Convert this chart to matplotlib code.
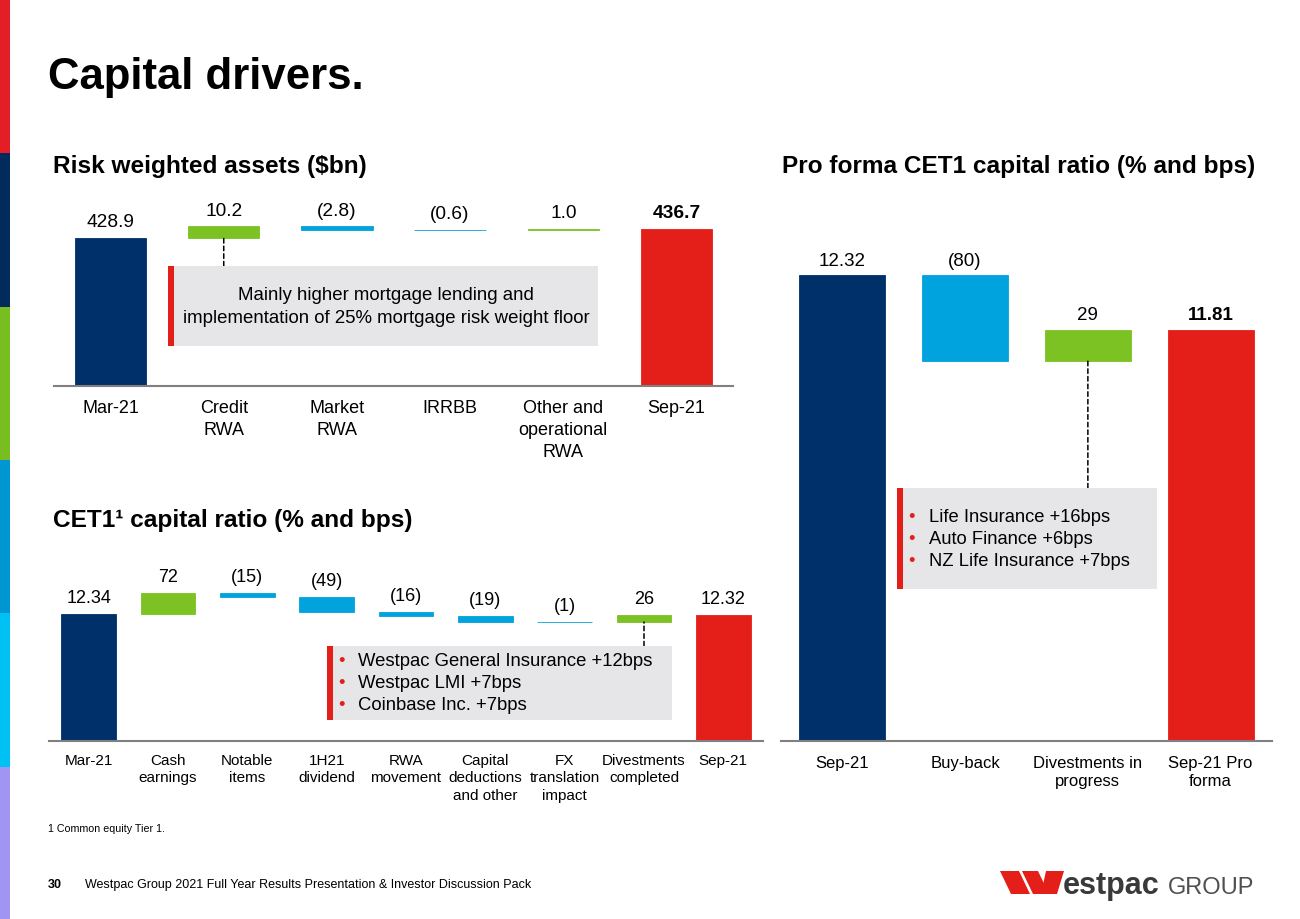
import matplotlib
matplotlib.use('Agg')
import matplotlib.pyplot as plt
import matplotlib.transforms as mtransforms
from matplotlib.patches import Rectangle, Polygon
import numpy as np

plt.rcParams['font.family'] = ['Liberation Sans', 'DejaVu Sans']

W, H = 1300, 919

NAVY = '#00306A'
BLUE = '#00A3DD'
GREEN = '#7CC223'
RED = '#E41F1A'
BOX_GREY = '#E6E6E8'
AXIS_GREY = '#808080'

# ---- data ----
rwa_cats = ['Mar-21', 'Credit\nRWA', 'Market\nRWA', 'IRRBB', 'Other and\noperational\nRWA', 'Sep-21']
rwa_start = 428.9
rwa_moves = [10.2, -2.8, -0.6, 1.0]
rwa_end = 436.7

cet1_cats = ['Mar-21', 'Cash\nearnings', 'Notable\nitems', '1H21\ndividend', 'RWA\nmovement',
             'Capital\ndeductions\nand other', 'FX\ntranslation\nimpact', 'Divestments\ncompleted', 'Sep-21']
cet1_start = 12.34
cet1_moves_bps = [72, -15, -49, -16, -19, -1, 26]
cet1_end = 12.32

pf_cats = ['Sep-21', 'Buy-back', 'Divestments in\nprogress', 'Sep-21 Pro\nforma']
pf_start = 12.32
pf_moves_bps = [-80, 29]
pf_end = 11.81

rwa_note = 'Mainly higher mortgage lending and\nimplementation of 25% mortgage risk weight floor'
cet1_note = ['Westpac General Insurance +12bps', 'Westpac LMI +7bps', 'Coinbase Inc. +7bps']
pf_note = ['Life Insurance +16bps', 'Auto Finance +6bps', 'NZ Life Insurance +7bps']

fig = plt.figure(figsize=(13, 9.19), dpi=100)


def fx(px):
    return px / W


def fy(py):
    return 1 - py / H


def make_axes(left, right, top, base):
    return fig.add_axes([fx(left), fy(base), (right - left) / W, (base - top) / H])


def fmt_one(v):
    return f'{v:.1f}' if v > 0 else f'({-v:.1f})'


def fmt_bps(v):
    return f'{v}' if v > 0 else f'({-v})'


def waterfall(ax, cats, start, moves, end, scale, fmt_total, fmt_move, fs, width,
              bold_end, ylim, lab_pad, tick_fs, tick_pad, spacing):
    n = len(cats)
    x = np.arange(n)
    steps = [m / scale for m in moves]
    cum = start + np.concatenate([[0], np.cumsum(steps)])
    bottoms = [0] + list(np.minimum(cum[:-1], cum[1:])) + [0]
    heights = [start] + [abs(s) for s in steps] + [end]
    tops = [start] + list(np.maximum(cum[:-1], cum[1:])) + [end]
    colors = [NAVY] + [GREEN if s > 0 else BLUE for s in steps] + [RED]
    ax.bar(x, heights, width, bottom=bottoms, color=colors, edgecolor=colors, linewidth=0.6)
    labels = [fmt_total(start)] + [fmt_move(m) for m in moves] + [fmt_total(end)]
    for i in range(n):
        ax.annotate(labels[i], (i, tops[i]), xytext=(0, lab_pad), textcoords='offset points',
                    ha='center', va='bottom', fontsize=fs,
                    fontweight='bold' if (bold_end and i == n - 1) else 'normal')
    ax.set_xlim(-0.5, n - 0.5)
    ax.set_ylim(*ylim)
    for s in ['top', 'right', 'left']:
        ax.spines[s].set_visible(False)
    ax.spines['bottom'].set_color(AXIS_GREY)
    ax.spines['bottom'].set_linewidth(1.5)
    ax.set_yticks([])
    ax.set_xticks(x)
    ax.set_xticklabels(cats, fontsize=tick_fs, linespacing=spacing)
    ax.tick_params(axis='x', length=0, pad=tick_pad)
    return bottoms


def dashed(ax, i, y_data, y_px):
    tr = mtransforms.blended_transform_factory(ax.transData, fig.transFigure)
    ax.annotate('', xy=(i, y_data), xycoords='data', xytext=(i, fy(y_px)), textcoords=tr,
                arrowprops=dict(arrowstyle='-', linestyle=(0, (3, 2)), color='black', lw=1.1,
                                shrinkA=0, shrinkB=0))


def note_box(x0, x1, y0, y1):
    fig.add_artist(Rectangle((fx(x0 + 6), fy(y1)), (x1 - x0 - 6) / W, (y1 - y0) / H,
                             transform=fig.transFigure, color=BOX_GREY, lw=0))
    fig.add_artist(Rectangle((fx(x0), fy(y1)), 6 / W, (y1 - y0) / H,
                             transform=fig.transFigure, color=RED, lw=0))


def bullets(items, xb, xt, y0, dy, fs):
    for k, t in enumerate(items):
        y = y0 + k * dy
        fig.text(fx(xb), fy(y), '\u2022', color=RED, fontsize=fs, ha='left', va='center')
        fig.text(fx(xt), fy(y), t, fontsize=fs, ha='left', va='center')


# left colour strip
strip = [(0, 153, '#E41E26'), (153, 307, '#002B5C'), (307, 460, '#78BE20'),
         (460, 613, '#0096D1'), (613, 767, '#00C1F3'), (767, 919, '#A095F2')]
for a, b, c in strip:
    fig.add_artist(Rectangle((0, fy(b)), 10 / W, (b - a) / H, transform=fig.transFigure, color=c, lw=0))

# titles
fig.text(fx(48), fy(77), 'Capital drivers.', fontsize=31.5, fontweight='bold', va='center')
fig.text(fx(53), fy(167), 'Risk weighted assets ($bn)', fontsize=17.6, fontweight='bold', va='center')
fig.text(fx(782), fy(167), 'Pro forma CET1 capital ratio (% and bps)', fontsize=17.6, fontweight='bold', va='center')
fig.text(fx(53), fy(521), 'CET1\u00b9 capital ratio (% and bps)', fontsize=17.6, fontweight='bold', va='center')

# RWA chart
ax1 = make_axes(54, 733, 195, 385.7)
b1 = waterfall(ax1, rwa_cats, rwa_start, rwa_moves, rwa_end, 1, lambda v: f'{v:.1f}', fmt_one,
               13.8, 0.63, True, (298, 467), 5, 13, 10.5, 1.38)
note_box(168, 598, 266, 346)
fig.text(fx(386), fy(307), rwa_note, fontsize=13.4, ha='center', va='center', linespacing=1.4)
dashed(ax1, 1, b1[1], 266)

# CET1 chart
ax2 = make_axes(49, 763, 560, 741)
b2 = waterfall(ax2, cet1_cats, cet1_start, cet1_moves_bps, cet1_end, 100, lambda v: f'{v:.2f}', fmt_bps,
               13, 0.69, False, (7.96, 14.2), 5, 11, 9.5, 1.3)
note_box(327, 672, 646, 720)
bullets(cet1_note, 338, 358, 662, 22, 13.3)
dashed(ax2, 7, b2[7], 646)

# Pro forma chart
ax3 = make_axes(781, 1272, 230, 741)
b3 = waterfall(ax3, pf_cats, pf_start, pf_moves_bps, pf_end, 100, lambda v: f'{v:.2f}', fmt_bps,
               13.5, 0.70, True, (7.985, 12.74), 4, 12, 10.5, 1.25)
note_box(897, 1157, 488, 589)
bullets(pf_note, 908, 929, 518, 22, 13.2)
dashed(ax3, 2, b3[2], 488)

# footnotes
fig.text(fx(48), fy(829), '1 Common equity Tier 1.', fontsize=7.7, va='center')
fig.text(fx(48), fy(885), '30', fontsize=9, fontweight='bold', va='center')
fig.text(fx(85), fy(885), 'Westpac Group 2021 Full Year Results Presentation & Investor Discussion Pack',
         fontsize=9, va='center')

# logo
w_shapes = [
    [(1000, 871), (1019, 871), (1030, 894), (1011, 894)],
    [(1022, 871), (1038, 871), (1049, 894), (1033, 894)],
    [(1046, 871), (1064, 871), (1057, 894), (1041, 894)],
]
for pts in w_shapes:
    fig.add_artist(Polygon([(fx(px), fy(py)) for px, py in pts], closed=True,
                           transform=fig.transFigure, color=RED, lw=0))
fig.text(fx(1063), fy(894), 'estpac', fontsize=22, fontweight='bold', color='#3A3A3A', va='baseline')
fig.text(fx(1168), fy(894), 'GROUP', fontsize=17, color='#4F4F4F', va='baseline')

fig.savefig('out.png', dpi=100)
